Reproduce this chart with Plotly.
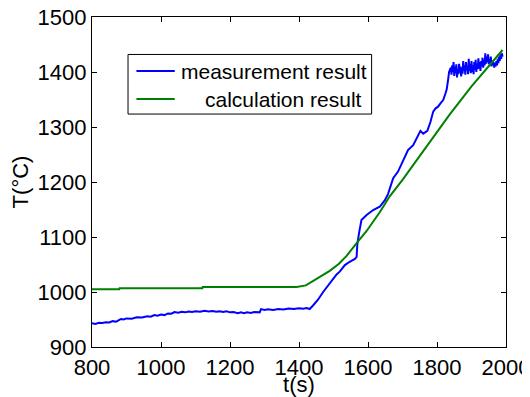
import plotly.graph_objects as go

# measurement (blue)
t_meas = [800, 810, 820, 830, 840, 850, 860, 870, 884, 892, 900, 915, 930, 945, 960, 970,
          981, 990, 1000, 1010, 1020, 1030, 1039, 1050, 1060, 1070, 1080, 1090, 1100, 1113,
          1126, 1138, 1150, 1160, 1170, 1180, 1190, 1200, 1210, 1223, 1232, 1240, 1250, 1260,
          1270, 1281, 1286, 1290, 1300, 1310, 1325, 1340, 1355, 1370, 1385, 1400, 1412, 1422,
          1431, 1440, 1455, 1470, 1480, 1489, 1500, 1509, 1518, 1533, 1547, 1562, 1567,
          1569, 1574, 1581, 1596, 1615, 1634, 1649, 1658, 1663, 1673, 1687, 1702, 1716, 1731,
          1743, 1752, 1760, 1772, 1781, 1789, 1796, 1803, 1810, 1818, 1824, 1828, 1832, 1835,
          1840, 1842, 1844, 1846, 1848, 1850, 1852, 1854, 1856, 1858, 1860, 1862, 1864, 1866,
          1868, 1870, 1872, 1874, 1876, 1878, 1880, 1882, 1884, 1886, 1888, 1890, 1892, 1894,
          1896, 1898, 1900, 1902, 1904, 1906, 1908, 1910, 1912, 1914, 1916, 1918, 1920, 1922,
          1924, 1926, 1928, 1930, 1932, 1934, 1936, 1938, 1940, 1942, 1944, 1946, 1948, 1950,
          1952, 1954, 1956, 1958, 1960, 1962, 1964, 1966, 1968, 1970, 1972, 1974, 1976, 1978,
          1980, 1982, 1984, 1986, 1988, 1990]
T_meas = [943, 942, 944, 943.5, 945, 944.5, 947, 946, 951, 950, 952, 951.5, 954, 953.5, 956, 955,
          958, 957, 959, 958, 961, 960.5, 963.5, 962.5, 964, 963, 964.5, 963.5, 965, 964,
          966, 964.5, 965.5, 964, 965, 963.5, 965, 963, 963.5, 961.5, 963, 961.5, 963, 962,
          963.5, 964, 963, 969, 967.5, 968.5, 967.5, 969, 968, 970, 969, 970.5, 969.5, 971,
          969, 975, 986, 1000, 1008, 1016, 1026, 1032, 1037, 1049, 1055, 1060, 1064,
          1086, 1107, 1131, 1140, 1149, 1155, 1167, 1178, 1188, 1207, 1219, 1240, 1258, 1267,
          1282, 1293, 1288, 1293, 1309, 1328, 1334, 1337, 1343, 1349, 1360, 1368, 1385, 1400,
          1408, 1395, 1412, 1400, 1418, 1393, 1410, 1398, 1414, 1390, 1405, 1396, 1415, 1399,
          1410, 1392, 1408, 1397, 1420, 1402, 1412, 1395, 1418, 1404, 1410, 1396, 1424, 1402,
          1415, 1398, 1420, 1400, 1412, 1396, 1418, 1404, 1422, 1400, 1415, 1405, 1425, 1406,
          1418, 1402, 1420, 1410, 1426, 1408, 1422, 1412, 1434, 1415, 1428, 1418, 1432, 1414,
          1424, 1416, 1428, 1410, 1420, 1412, 1418, 1408, 1416, 1410, 1420, 1412, 1424, 1416,
          1428, 1420, 1432, 1424, 1434, 1428]

# calculation (green)
t_calc = [800, 879, 880, 1120, 1121, 1393, 1420, 1441, 1465, 1489, 1515, 1538, 1567, 1596,
          1634, 1663, 1700, 1743, 1800, 1837, 1900, 1950, 1990]
T_calc = [1005, 1005, 1007, 1007, 1009, 1009, 1012, 1020, 1028, 1038.5, 1051, 1065.7, 1088.8,
          1111, 1145, 1174, 1204, 1241, 1290, 1323, 1374, 1410, 1440]

series_names = ["measurement result", "calculation result"]
series_colors = ["#0000FF", "#008000"]

x_ticks = [800, 1000, 1200, 1400, 1600, 1800, 2000]
y_ticks = [900, 1000, 1100, 1200, 1300, 1400, 1500]

FONT = "Liberation Sans, Arial, sans-serif"

fig = go.Figure()
fig.add_trace(go.Scatter(x=t_meas, y=T_meas, mode="lines", name=series_names[0],
                         line=dict(color=series_colors[0], width=2)))
fig.add_trace(go.Scatter(x=t_calc, y=T_calc, mode="lines", name=series_names[1],
                         line=dict(color=series_colors[1], width=2)))

axis_common = dict(showgrid=False, zeroline=False, showline=True, linecolor="black",
                   linewidth=1.3, mirror="ticks", ticks="inside", ticklen=5,
                   tickcolor="black", tickwidth=1, automargin=False,
                   ticklabeloverflow="allow",
                   tickfont=dict(family=FONT, size=22, color="black"))

fig.update_xaxes(range=[800, 2000], tickvals=x_ticks, ticktext=[str(v) for v in x_ticks],
                 title=dict(text="t(s)", font=dict(family=FONT, size=22, color="black"),
                            standoff=2),
                 **axis_common)
fig.update_yaxes(range=[900, 1500], tickvals=y_ticks, ticktext=[str(v) for v in y_ticks],
                 title=dict(text="T(°C)", font=dict(family=FONT, size=22, color="black"),
                            standoff=2),
                 **axis_common)

# legend box drawn in paper coordinates (MATLAB-style boxed legend)
leg_x0, leg_x1, leg_y0, leg_y1 = 0.087, 0.6754, 0.7059, 0.8865
row_y = [0.8360, 0.7513]
line_x0, line_x1 = 0.1073, 0.1999
text_x = [0.2103, 0.2683]

shapes = [dict(type="rect", xref="paper", yref="paper", x0=leg_x0, x1=leg_x1,
               y0=leg_y0, y1=leg_y1, line=dict(color="black", width=1),
               fillcolor="white", layer="above")]
annotations = []
for i in range(2):
    shapes.append(dict(type="line", xref="paper", yref="paper", x0=line_x0, x1=line_x1,
                       y0=row_y[i], y1=row_y[i],
                       line=dict(color=series_colors[i], width=2), layer="above"))
    annotations.append(dict(xref="paper", yref="paper", x=text_x[i], y=row_y[i],
                            xanchor="left", yanchor="middle", showarrow=False,
                            text=series_names[i],
                            font=dict(family=FONT, size=21, color="black")))

fig.update_layout(
    template="none",
    width=522, height=389,
    margin=dict(l=84.3, r=24, t=8.8, b=49.7, autoexpand=False),
    paper_bgcolor="white", plot_bgcolor="white",
    font=dict(family=FONT, size=21, color="black"),
    showlegend=False,
    shapes=shapes,
    annotations=annotations,
)

fig.write_html("out.html")
